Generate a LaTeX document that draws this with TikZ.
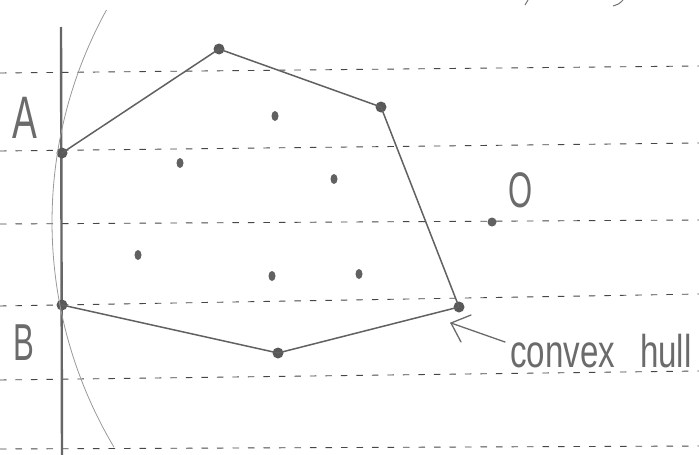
\documentclass[tikz,border=0pt]{standalone}
\usepackage{fontspec}
\setmainfont{Liberation Sans}
\usetikzlibrary{arrows.meta,shapes.geometric}
\begin{document}
\begin{tikzpicture}[x=1pt,y=-1pt,
  rule/.style={black!72,line width=0.9pt,dash pattern=on 6.5pt off 9pt},
  vline/.style={black!60,line width=2.4pt},
  hull/.style={black!62,line width=1.5pt,line cap=round,line join=round},
  hv/.style={circle,fill=black!65,minimum size=11pt,inner sep=0pt},
  pt/.style={ellipse,fill=black!62,minimum width=7pt,minimum height=10pt,inner sep=0pt},
  arcline/.style={black!40,line width=0.8pt},
  hand/.style={text=black!58,inner sep=0pt},
  arr/.style={black!58,line width=1.3pt,line cap=round}]
\useasboundingbox (0,0) rectangle (699,455);
\fill[white] (0,0) rectangle (699,455);
% ruled notebook lines
\foreach \a/\b in {73/66,151/143,224/220,306/294,380/371,449/446}
  \draw[rule] (0,\a) -- (699,\b);
% vertical line
\draw[vline] (61,27) -- (62,455);
% hull vertices
\node[hv] (A) at (62,153) {};
\node[hv] (T) at (219,49) {};
\node[hv] (R1) at (381,107) {};
\node[hv] (R2) at (459,307) {};
\node[hv] (Bt) at (278,353) {};
\node[hv] (B) at (62,305) {};
\draw[hull] (A.center) -- (T.center) -- (R1.center) -- (R2.center) -- (Bt.center) -- (B.center);
% interior points
\node[pt] (p1) at (275,116) {};
\node[pt] (p2) at (180,163) {};
\node[pt] (p3) at (334,179) {};
\node[pt] (p4) at (138,255) {};
\node[pt] (p5) at (272,276) {};
\node[pt] (p6) at (359,274) {};
\node[circle,fill=black!62,minimum size=9pt,inner sep=0pt] (o) at (492,222) {};
% circle arc around O
\draw[arcline] (o.center) ++(208.8:440) arc[start angle=208.8,end angle=149.2,radius=440];
% labels
\node[hand,anchor=base,font=\fontsize{60}{60}\selectfont] (Alab) at (24.5,138) {\scalebox{0.62}[1]{A}};
\node[hand,anchor=base,font=\fontsize{52}{52}\selectfont] (Blab) at (23.5,360) {\scalebox{0.6}[1]{B}};
\node[hand,anchor=base,font=\fontsize{50}{50}\selectfont] (Olab) at (521,207) {\scalebox{0.62}[1]{O}};
\node[hand,anchor=base west,font=\fontsize{46}{46}\selectfont] (chull) at (510,367) {\scalebox{0.72}[1]{convex \hspace{22pt}hull}};
% arrow to hull
\coordinate (tail) at (505,342);
\coordinate (tip) at (451,323);
\draw[arr] (tail) -- (tip);
\draw[arr] (tip) -- ++(20,-8);
\draw[arr] (tip) -- ++(10,19);
% stray strokes at top edge
\draw[black!55,line width=1pt] (525,5) -- (528,0);
\draw[black!55,line width=1pt] (613,6) .. controls (619,4) .. (623,0);
\end{tikzpicture}
\end{document}
